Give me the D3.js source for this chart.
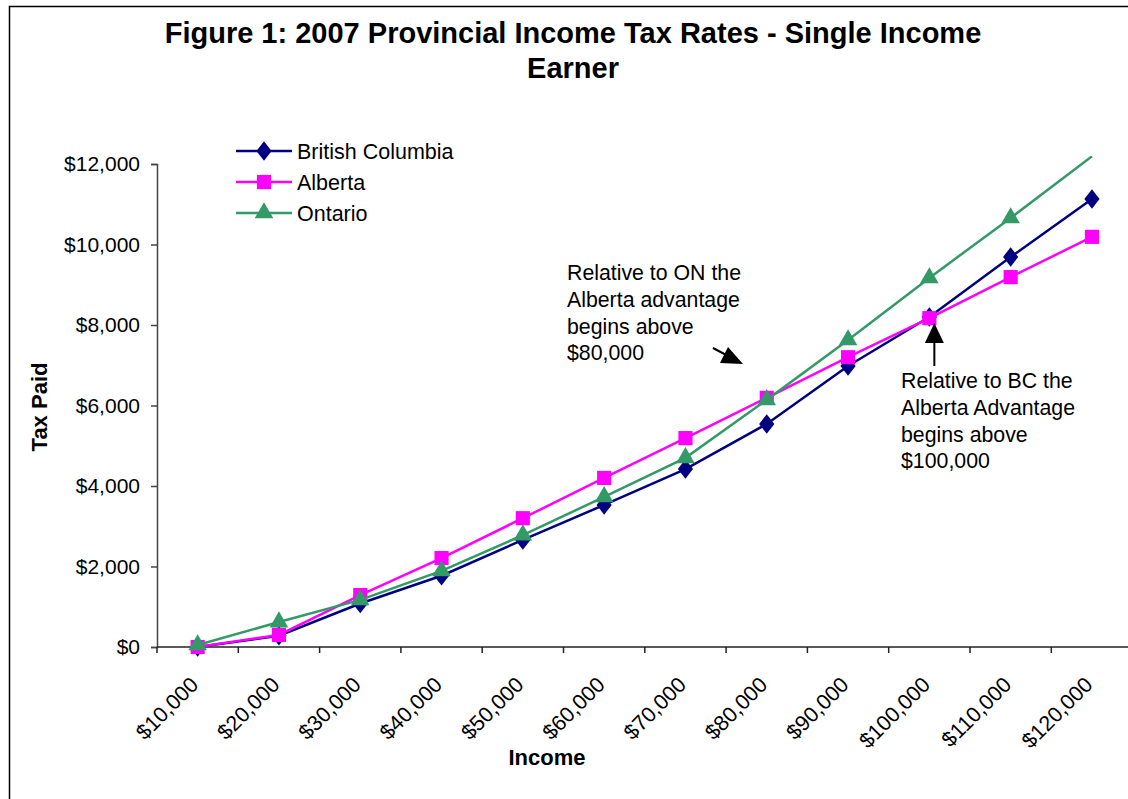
<!DOCTYPE html>
<html lang="en">
<head>
<meta charset="UTF-8">
<title>2007 Provincial Income Tax Rates</title>
<script src="https://d3js.org/d3.v7.min.js"></script>
<style>
  body { margin: 0; background: #fff; }
  text { font-family: "Liberation Sans", Arial, sans-serif; fill: #000; }
</style>
</head>
<body>
<script>
// data
var incomes = ["$10,000", "$20,000", "$30,000", "$40,000", "$50,000", "$60,000",
               "$70,000", "$80,000", "$90,000", "$100,000", "$110,000", "$120,000"];
var bcTax = [0, 280, 1080, 1770, 2660, 3530, 4420, 5540, 6980, 8200, 9690, 11130];
var abTax = [0, 300, 1290, 2210, 3200, 4200, 5190, 6190, 7200, 8170, 9190, 10190];
var onTax = [50, 620, 1170, 1890, 2780, 3730, 4700, 6140, 7630, 9170, 10660, 12190];
var yTicks = [0, 2000, 4000, 6000, 8000, 10000, 12000];

var w = 1128, h = 799;

var svg = d3.select("body").append("svg")
    .attr("width", w)
    .attr("height", h);

// chart border (only left and top visible)
svg.append("path")
    .attr("d", "M9.5," + h + "V6.5H" + w)
    .attr("fill", "none")
    .attr("stroke", "#000")
    .attr("stroke-width", 1.5);

var xScale = d3.scaleBand()
    .domain(incomes)
    .range([157, 1132.6]);

var yScale = d3.scaleLinear()
    .domain([0, 12000])
    .range([647, 164]);

// title
svg.append("text")
    .attr("x", 573).attr("y", 43)
    .attr("text-anchor", "middle")
    .attr("font-size", "29px").attr("font-weight", "bold")
    .text("Figure 1: 2007 Provincial Income Tax Rates - Single Income");
svg.append("text")
    .attr("x", 573).attr("y", 78)
    .attr("text-anchor", "middle")
    .attr("font-size", "29px").attr("font-weight", "bold")
    .text("Earner");

// y axis
var yAxis = d3.axisLeft(yScale)
    .tickValues(yTicks)
    .tickSize(6)
    .tickPadding(11)
    .tickFormat(d3.format("$,"));

var gy = svg.append("g")
    .attr("transform", "translate(157,0)")
    .call(yAxis);
gy.select(".domain").attr("stroke", "#444").attr("stroke-width", 1.5);
gy.selectAll(".tick line").attr("stroke", "#444").attr("stroke-width", 1.5);
gy.selectAll(".tick text").attr("font-size", "21px").attr("fill", "#000")
    .attr("font-family", "Liberation Sans, Arial, sans-serif");

// x axis line and tick marks between categories
svg.append("line")
    .attr("x1", 157).attr("x2", 1132.6)
    .attr("y1", 647).attr("y2", 647)
    .attr("stroke", "#222").attr("stroke-width", 1.5);

svg.selectAll(".xtick")
    .data(incomes)
    .enter().append("line")
    .attr("class", "xtick")
    .attr("x1", function (d) { return xScale(d); })
    .attr("x2", function (d) { return xScale(d); })
    .attr("y1", 647).attr("y2", 653)
    .attr("stroke", "#222").attr("stroke-width", 1.5);

svg.selectAll(".xlabel")
    .data(incomes)
    .enter().append("text")
    .attr("class", "xlabel")
    .attr("font-size", "21.5px")
    .attr("text-anchor", "end")
    .attr("transform", function (d) {
        return "translate(" + (xScale(d) + xScale.bandwidth() / 2 + 2) + ",686) rotate(-45)";
    })
    .text(function (d) { return d; });

// axis titles
svg.append("text")
    .attr("transform", "translate(47,407) rotate(-90)")
    .attr("text-anchor", "middle")
    .attr("font-size", "22px").attr("font-weight", "bold")
    .text("Tax Paid");

svg.append("text")
    .attr("x", 547).attr("y", 765)
    .attr("text-anchor", "middle")
    .attr("font-size", "22px").attr("font-weight", "bold")
    .text("Income");

// series
var series = [
    { name: "British Columbia", values: bcTax, color: "#000080", symbol: d3.symbolDiamond, size: 110 },
    { name: "Alberta", values: abTax, color: "#FF00FF", symbol: d3.symbolSquare, size: 200 },
    { name: "Ontario", values: onTax, color: "#339966", symbol: d3.symbolTriangle, size: 150 }
];

svg.append("clipPath").attr("id", "plot-clip")
    .append("rect")
    .attr("x", 150).attr("y", 156)
    .attr("width", 1000).attr("height", 510);

var line = d3.line()
    .x(function (d, i) { return xScale(incomes[i]) + xScale.bandwidth() / 2; })
    .y(function (d) { return yScale(d); });

series.forEach(function (s) {
    var g = svg.append("g").attr("clip-path", "url(#plot-clip)");
    g.append("path")
        .datum(s.values)
        .attr("d", line)
        .attr("fill", "none")
        .attr("stroke", s.color)
        .attr("stroke-width", 2.5);

    g.selectAll("path.marker")
        .data(s.values.filter(function (v) { return v <= 12000; }))
        .enter().append("path")
        .attr("class", "marker")
        .attr("d", d3.symbol().type(s.symbol).size(s.size))
        .attr("transform", function (d, i) {
            var tx = xScale(incomes[i]) + xScale.bandwidth() / 2;
            var ty = yScale(d);
            if (s.symbol === d3.symbolDiamond) {
                return "translate(" + tx + "," + ty + ") scale(1.35,1)";
            }
            return "translate(" + tx + "," + ty + ")";
        })
        .attr("fill", s.color);
});

// legend
var legend = svg.append("g");
series.forEach(function (s, i) {
    var ly = 151 + i * 31;
    legend.append("line")
        .attr("x1", 236).attr("x2", 292)
        .attr("y1", ly).attr("y2", ly)
        .attr("stroke", s.color).attr("stroke-width", 2.5);
    legend.append("path")
        .attr("d", d3.symbol().type(s.symbol).size(s.size))
        .attr("transform", "translate(264," + ly + ")" + (s.symbol === d3.symbolDiamond ? " scale(1.35,1)" : ""))
        .attr("fill", s.color);
    legend.append("text")
        .attr("x", 297).attr("y", ly + 8)
        .attr("font-size", "21.5px")
        .text(s.name);
});

// annotations
var note1 = ["Relative to ON the", "Alberta advantage", "begins above", "$80,000"];
var note2 = ["Relative to BC the", "Alberta Advantage", "begins above", "$100,000"];

svg.selectAll(".note1")
    .data(note1)
    .enter().append("text")
    .attr("class", "note1")
    .attr("x", 567)
    .attr("y", function (d, i) { return 280 + i * 26.8; })
    .attr("font-size", "21.3px")
    .text(function (d) { return d; });

svg.selectAll(".note2")
    .data(note2)
    .enter().append("text")
    .attr("class", "note2")
    .attr("x", 901)
    .attr("y", function (d, i) { return 388 + i * 26.8; })
    .attr("font-size", "21.3px")
    .text(function (d) { return d; });

// arrow 1: diagonal, pointing down-right
svg.append("line")
    .attr("x1", 713).attr("y1", 348)
    .attr("x2", 730).attr("y2", 357)
    .attr("stroke", "#000").attr("stroke-width", 2);
svg.append("path")
    .attr("d", "M743,364L720,363L728,347Z")
    .attr("fill", "#000");

// arrow 2: vertical, pointing up at the Alberta $100,000 point
var ax = xScale("$100,000") + xScale.bandwidth() / 2 + 5;
svg.append("line")
    .attr("x1", ax).attr("y1", 366)
    .attr("x2", ax).attr("y2", 338)
    .attr("stroke", "#000").attr("stroke-width", 2);
svg.append("path")
    .attr("d", "M" + ax + ",323L" + (ax - 9.5) + ",343L" + (ax + 9.5) + ",343Z")
    .attr("fill", "#000");
</script>
</body>
</html>
